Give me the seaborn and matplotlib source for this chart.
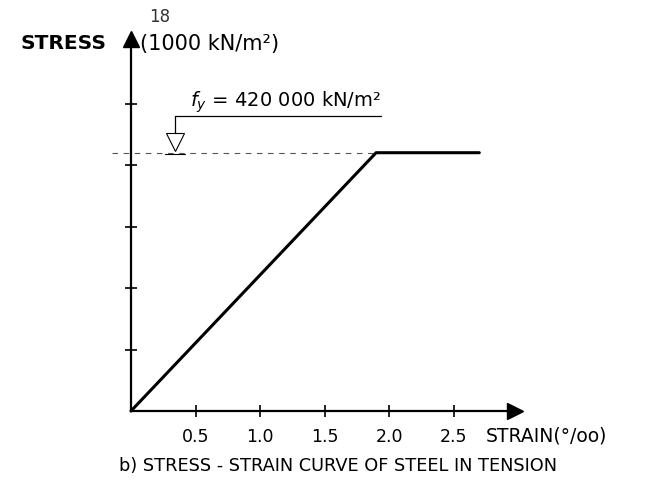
import matplotlib
matplotlib.use("Agg")
import matplotlib.pyplot as plt
import seaborn as sns
import pandas as pd

# stress-strain curve of steel (strain in per mille, stress in 1000 kN/m2)
strain = [0.0, 1.9, 2.7]
stress = [0.0, 420.0, 420.0]
fy = 420.0
x_ticks = [0.5, 1.0, 1.5, 2.0, 2.5]
x_tick_labels = ["0.5", "1.0", "1.5", "2.0", "2.5"]
y_ticks = [100, 200, 300, 400, 500]

sns.set_style("white")
plt.rcParams["font.family"] = ["DejaVu Sans"]
plt.rcParams["text.color"] = "black"

df = pd.DataFrame({"strain": strain, "stress": stress})

fig = plt.figure(figsize=(6.71, 4.88), dpi=100)
ax = fig.add_axes([0, 0, 1, 1])
ax.set_xlim(-1.0155, 4.186)
ax.set_ylim(-125.2, 668.3)

# axes through the origin
for s in ["top", "right"]:
    ax.spines[s].set_visible(False)
ax.spines["left"].set_position(("data", 0))
ax.spines["bottom"].set_position(("data", 0))
ax.spines["left"].set_bounds(0, 600)
ax.spines["bottom"].set_bounds(0, 2.95)
for s in ["left", "bottom"]:
    ax.spines[s].set_linewidth(1.6)
    ax.spines[s].set_color("black")
ax.plot(2.98, 0, marker=">", color="black", markersize=11, clip_on=False)
ax.plot(0, 605, marker="^", color="black", markersize=11, clip_on=False)

ax.set_xticks(x_ticks)
ax.set_xticklabels(x_tick_labels, fontsize=12.5)
ax.set_yticks(y_ticks)
ax.set_yticklabels([])
ax.tick_params(axis="both", bottom=True, left=True, direction="inout",
               length=9, width=1.2, colors="black", labelcolor="black")
ax.tick_params(axis="x", pad=8)

# yield level
ax.plot([-0.15, 1.9], [fy, fy], color="#555555", lw=0.8, dashes=(5, 5))
sns.lineplot(data=df, x="strain", y="stress", color="black", lw=2.2, ax=ax,
             estimator=None, sort=False)
ax.set_xlabel("")
ax.set_ylabel("")

# fy annotation: triangle marker, leader and underline
ax.plot(0.34, 438, marker="v", markersize=13, markerfacecolor="white",
        markeredgecolor="black", markeredgewidth=0.8)
ax.plot([0.26, 0.42], [418, 418], color="black", lw=0.8)
ax.plot([0.34, 0.34], [452, 480], color="black", lw=0.9)
ax.plot([0.34, 1.94], [480, 480], color="black", lw=0.9)
ax.text(0.46, 494, r"$f_y$ = 420 000 kN/m²", fontsize=14, ha="left", va="baseline")

ax.text(-0.19, 597, "STRESS", fontsize=14.5, fontweight="bold", ha="right", va="center")
ax.text(0.07, 597, "(1000 kN/m²)", fontsize=15, ha="left", va="center")
ax.text(0.22, 640, "18", fontsize=12, ha="center", va="center", color="#333333")
ax.text(2.75, -40, "STRAIN(°/oo)", fontsize=13.5, ha="left", va="center")
ax.text(-0.09, -89, "b) STRESS - STRAIN CURVE OF STEEL IN TENSION", fontsize=12.8,
        ha="left", va="center")

fig.savefig("out.png", dpi=100)
